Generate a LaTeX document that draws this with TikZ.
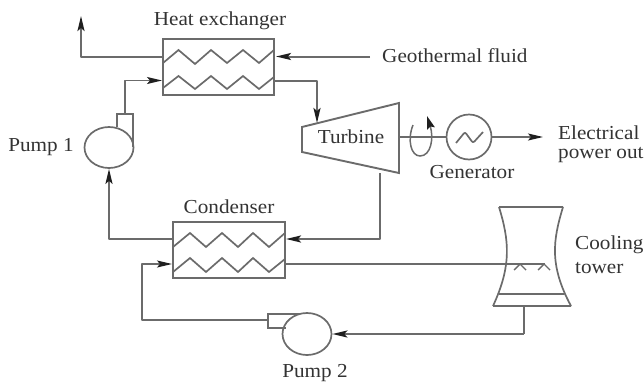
\documentclass[tikz,border=0pt]{standalone}
\usepackage{fontspec}
\setmainfont[FakeStretch=1.07]{Liberation Serif}
\usetikzlibrary{arrows.meta,shapes.geometric}
\definecolor{ln}{gray}{0.42}
\definecolor{tx}{gray}{0.2}
\tikzset{
  x=1pt,y=-1pt,
  headtip/.style={-{Stealth[length=15pt,width=7pt,inset=3pt,color=black!88]}},
  pipe/.style={draw=ln,line width=2pt,line join=round},
  thin pipe/.style={draw=ln,line width=1.5pt,line join=round},
  flow/.style={pipe,headtip},
  thin flow/.style={thin pipe,headtip},
  hxbox/.style={draw=ln,line width=1.9pt,rectangle,minimum height=56pt,inner sep=0pt},
  coil/.style={draw=ln,line width=1.7pt,line join=miter},
  pumpbody/.style={draw=ln,line width=1.7pt,ellipse,inner sep=0pt,fill=white},
  lab/.style={text=tx,font=\fontsize{19.8}{21}\selectfont,inner sep=0pt},
  lableft/.style={lab,anchor=west,align=left}
}
\begin{document}
\begin{tikzpicture}
\useasboundingbox (0,0) rectangle (644,383);
% heat exchanger
\node[hxbox,minimum width=111pt] (hx) at (218.5,67) {};
\draw[coil] (163,63)--(178.5,50)--(195,64)--(211,50)--(227,63)--(243,50)--(259,63)--(274,50);
\draw[coil] (163,88)--(178.5,76)--(195,89)--(211,76)--(227,89)--(243,76)--(259,89)--(274,77);
\node[lab] (hxl) at (220,21) {Heat exchanger};
% condenser
\node[hxbox,minimum width=112pt] (cd) at (229,250) {};
\draw[coil] (173,247)--(190,233)--(206,247)--(222,233)--(238,247)--(253,233)--(269,247)--(285,233);
\draw[coil] (173,272)--(190,258)--(206,272)--(222,258)--(238,272)--(253,258)--(269,272)--(285,259);
\node[lab] (cdl) at (229,207) {Condenser};
% pump 1
\node[pumpbody,minimum width=49pt,minimum height=41pt] (p1) at (109,147.5) {};
\draw[coil] (117,127)--(117,114)--(133,114)--(133,147);
\node[lab] (p1l) at (41,147) {Pump 1};
% pump 2
\node[pumpbody,minimum width=49pt,minimum height=42pt] (p2) at (307,334) {};
\draw[coil] (300,314)--(268,314)--(268,328)--(286,328);
\node[lab] (p2l) at (315,373) {Pump 2};
% turbine
\draw[draw=ln,line width=1.9pt,line join=miter] (302,127)--(399,103)--(399,173)--(302,152)--cycle;
\node[lab] (tb) at (351,137) {Turbine};
% generator
\node[draw=ln,line width=1.7pt,circle,minimum size=45pt,inner sep=0pt] (gen) at (469,137) {};
\draw[coil,line join=round,rounded corners=2pt] (456,143)--(465,132)--(473,143)--(483,132);
\node[lab] (genl) at (472,172) {Generator};
% labels
\node[lableft] (geo) at (382,56) {Geothermal fluid};
\node[lableft] (el) at (558,133) {Electrical};
\node[lableft] (po) at (558,155) {power out};
\node[lableft] (ct1) at (575,245) {Cooling};
\node[lableft] (ct2) at (575,268) {tower};
% cooling tower
\draw[draw=ln,line width=1.7pt,line join=miter]
  (493,306)--(571,306)
  (563,207)--(499,207)
  (499,207) .. controls (509,240) and (512,265) .. (493,306)
  (563,207) .. controls (553,240) and (549,265) .. (571,306)
  (499,294)--(564,294);
\draw[draw=ln,line width=1.4pt] (514,270)--(520,264)--(526,270) (538,270)--(544,264)--(550,270);
% named connector ends
\coordinate (hxOutL) at (163,56.5);
\coordinate (hxInL) at (162,80.5);
\coordinate (hxInR) at (276,56.5);
\coordinate (hxOutR) at (274,80.5);
\coordinate (up) at (81,16);
\coordinate (geoStart) at (370,56.5);
\coordinate (tbIn) at (317,123);
\coordinate (tbOut) at (380,173);
\coordinate (cdInR) at (286,239);
\coordinate (cdOutL) at (173,239);
\coordinate (cdInL) at (172,264);
\coordinate (cdOutR) at (285,264);
\coordinate (towerIn) at (545,264);
\coordinate (towerOut) at (524,306);
\coordinate (p1top) at (125,114);
\coordinate (p2box) at (268,320);
\coordinate (shaft) at (399,137);
\coordinate (elec) at (543,137);
% connectors
\draw[flow] (hxOutL)--(81,56.5)--(up);
\draw[flow] (geoStart)--(hxInR);
\draw[thin flow] (p1top)--(125,80.5)--(hxInL);
\draw[flow] (hxOutR)--(317,80.5)--(tbIn);
\draw[flow] (tbOut)--(380,239)--(cdInR);
\draw[flow] (cdOutL)-|(p1.south);
\draw[thin flow] (p2box)--(142,320)--(142,264)--(cdInL);
\draw[thin pipe] (cdOutR)--(towerIn);
\draw[thin pipe] (towerOut)--(524,334);
\draw[flow] (524,334)--(p2.east);
\draw[thin pipe] (shaft)--(gen.west);
\draw[thin flow] (gen.east)--(elec);
% rotation arrow
\draw[draw=ln,line width=1.5pt,-{Stealth[length=13pt,width=8pt,inset=2pt,color=black!88]}]
  (413,125) .. controls (407,140) and (411,156) .. (420,156)
  .. controls (431,156) and (434,138) .. (427,116);
\end{tikzpicture}
\end{document}
